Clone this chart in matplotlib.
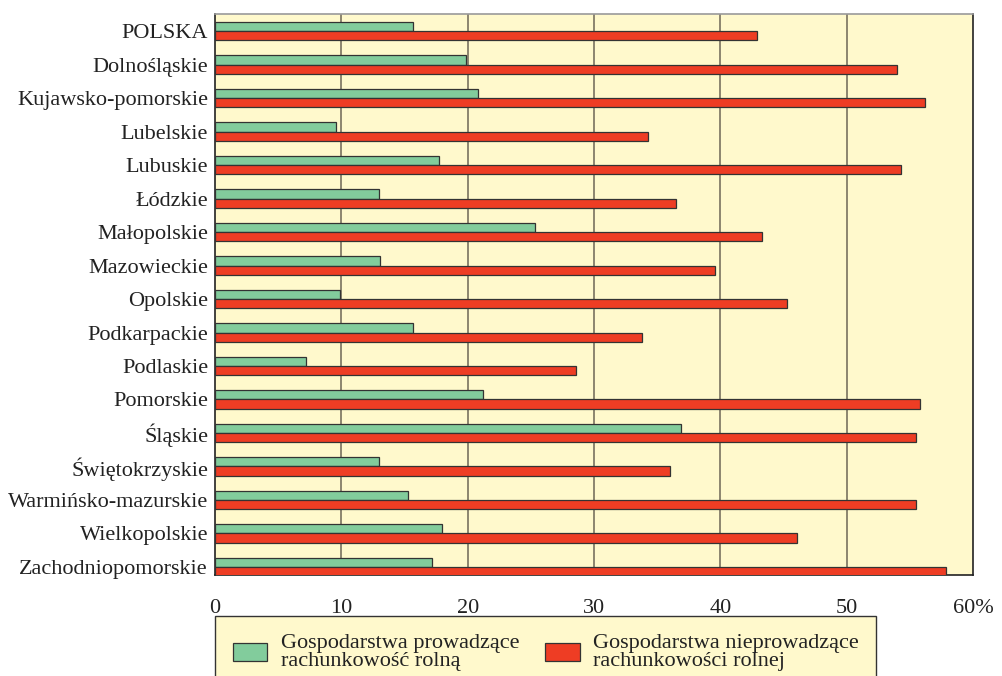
import numpy as np
import matplotlib.pyplot as plt

regions = ["POLSKA", "Dolnośląskie", "Kujawsko-pomorskie", "Lubelskie", "Lubuskie",
           "Łódzkie", "Małopolskie", "Mazowieckie", "Opolskie", "Podkarpackie",
           "Podlaskie", "Pomorskie", "Śląskie", "Świętokrzyskie", "Warmińsko-mazurskie",
           "Wielkopolskie", "Zachodniopomorskie"]
with_accounting = [15.7, 19.9, 20.8, 9.6, 17.7, 13.0, 25.3, 13.1, 9.9, 15.7,
                   7.2, 21.2, 36.9, 13.0, 15.3, 18.0, 17.2]
without_accounting = [42.9, 54.0, 56.2, 34.3, 54.3, 36.5, 43.3, 39.6, 45.3, 33.8,
                      28.6, 55.8, 55.5, 36.0, 55.5, 46.1, 57.9]
legend_labels = ["Gospodarstwa prowadzące\nrachunkowość rolną",
                 "Gospodarstwa nieprowadzące\nrachunkowości rolnej"]
xticks = [0, 10, 20, 30, 40, 50, 60]
xtick_labels = ["0", "10", "20", "30", "40", "50", "60%"]

plt.rcParams['font.family'] = ['Liberation Serif', 'DejaVu Serif']

green = "#82cc9c"
red = "#ee3d24"
bg = "#fff9cc"

fig = plt.figure(figsize=(10.02, 6.76), dpi=100)
ax = fig.add_axes([215 / 1002, 1 - 575 / 676, (973 - 215) / 1002, (575 - 14) / 676])
ax.set_facecolor(bg)

y = np.arange(len(regions))
h = 0.28
b1 = ax.barh(y - h / 2, with_accounting, height=h, color=green, edgecolor="#333333",
             linewidth=0.9, zorder=3)
b2 = ax.barh(y + h / 2, without_accounting, height=h, color=red, edgecolor="#333333",
             linewidth=0.9, zorder=3)

ax.set_xlim(0, 60)
ax.set_ylim(16.24, -0.51)
ax.set_yticks(y)
ax.set_yticklabels(regions, fontsize=16, color="#222222")
ax.set_xticks(xticks)
ax.set_xticklabels(xtick_labels, fontsize=16, color="#222222")
ax.tick_params(length=0)
ax.tick_params(axis="y", pad=5)
ax.tick_params(axis="x", pad=17)
for v in xticks[1:-1]:
    ax.axvline(v, color="#6e6656", linewidth=1.1, zorder=1)
for s in ["left", "right", "bottom"]:
    ax.spines[s].set_color("#222222")
    ax.spines[s].set_linewidth(1.2)
ax.spines["top"].set_color("#9a9a9a")
ax.spines["top"].set_linewidth(1.2)

leg = fig.legend([b1, b2], legend_labels, ncol=2, loc="upper left",
                 bbox_to_anchor=(215 / 1002, 1 - 616 / 676), borderaxespad=0,
                 frameon=True, fancybox=False, facecolor=bg, edgecolor="#333333",
                 framealpha=1, fontsize=16, handlelength=1.55, handleheight=0.85,
                 handletextpad=0.6, columnspacing=1.17, borderpad=0.8,
                 labelspacing=0.2)
leg.get_frame().set_linewidth(1.0)
for t in leg.get_texts():
    t.set_linespacing(0.95)
    t.set_color("#222222")

fig.savefig("out.png", dpi=100)
